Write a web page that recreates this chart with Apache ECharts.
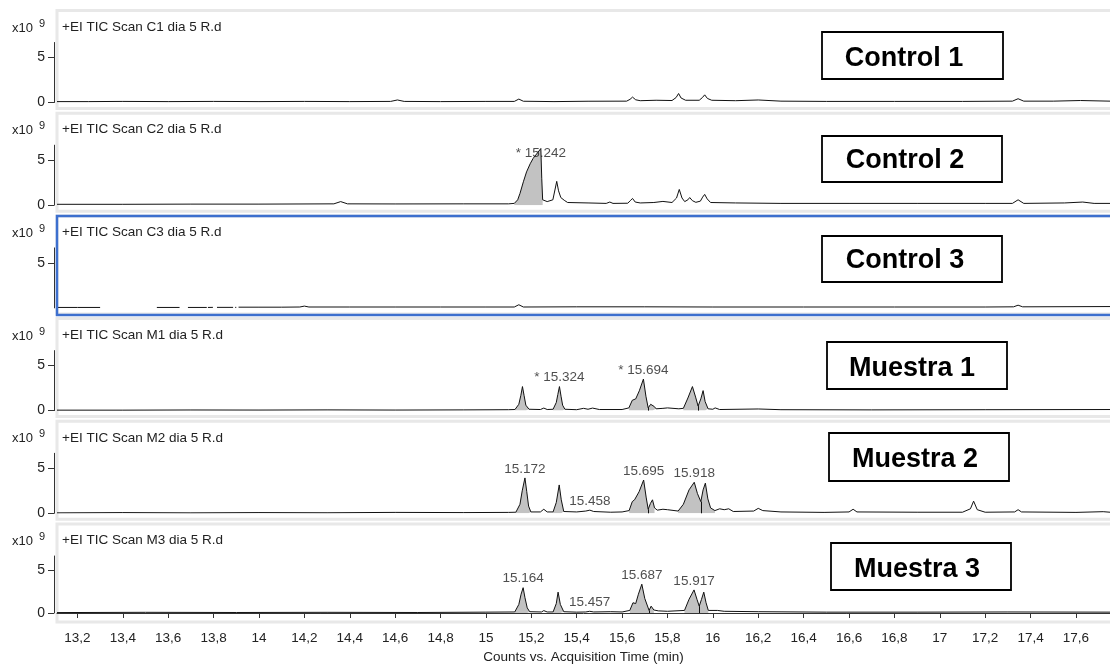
<!DOCTYPE html>
<html>
<head>
<meta charset="utf-8">
<script src="https://cdn.jsdelivr.net/npm/echarts@6/dist/echarts.min.js"></script>
<style>
  html, body { margin: 0; padding: 0; background: #fff; }
  #chart { width: 1110px; height: 665px; }
</style>
</head>
<body>
<div id="chart"></div>
<script>
// TIC traces: [retention time (min), intensity (x10^9 counts)]; null marks a gap in the recorded trace
const traceC1 = [
  [13.11,0.1],[13.25,0.1],[13.4,0.12],[13.6,0.1],[13.8,0.12],[14.0,0.1],[14.2,0.12],[14.4,0.1],
  [14.58,0.12],[14.61,0.28],[14.64,0.12],[14.8,0.1],[15.0,0.12],[15.125,0.12],[15.145,0.38],[15.165,0.14],
  [15.3,0.1],[15.45,0.14],[15.62,0.15],[15.635,0.35],[15.646,0.6],[15.66,0.3],[15.68,0.2],[15.75,0.25],
  [15.82,0.22],[15.838,0.55],[15.849,1.0],[15.86,0.5],[15.88,0.25],[15.94,0.25],[15.954,0.55],[15.964,0.85],
  [15.976,0.45],[15.995,0.25],[16.1,0.2],[16.2,0.28],[16.3,0.15],[16.5,0.12],[16.8,0.12],[17.1,0.12],
  [17.32,0.15],[17.345,0.42],[17.37,0.15],[17.5,0.15],[17.62,0.22],[17.75,0.15]
];
const traceC2 = [
  [13.11,0.1],[13.4,0.1],[13.7,0.12],[14.0,0.12],[14.33,0.15],[14.36,0.4],[14.39,0.15],[14.6,0.14],
  [14.9,0.15],[15.1,0.15],[15.125,0.2],[15.14,0.6],[15.15,1.3],[15.165,2.6],[15.179,3.7],[15.195,4.6],
  [15.208,5.2],[15.23,5.9],[15.242,6.3],[15.246,3.0],[15.25,0.6],[15.27,0.4],[15.295,0.6],[15.305,1.8],[15.312,2.65],
  [15.32,1.6],[15.33,0.85],[15.345,0.55],[15.36,0.3],[15.45,0.25],[15.53,0.2],[15.546,0.35],[15.56,0.2],
  [15.625,0.22],[15.636,0.5],[15.646,0.75],[15.658,0.35],[15.68,0.25],[15.74,0.3],[15.78,0.42],[15.82,0.3],
  [15.84,0.8],[15.852,1.75],[15.864,0.8],[15.876,0.4],[15.89,0.6],[15.898,0.85],[15.91,0.5],[15.925,0.32],
  [15.945,0.45],[15.955,0.9],[15.964,1.2],[15.975,0.7],[15.99,0.3],[16.1,0.25],[16.3,0.2],[16.6,0.2],
  [16.9,0.2],[17.2,0.2],[17.32,0.2],[17.345,0.6],[17.37,0.2],[17.55,0.25],[17.63,0.35],[17.68,0.2],[17.75,0.2]
];
const traceC3 = [
  [13.11,0.05],[13.2,0.05],[13.3,0.05],[13.4,null],[13.55,0.05],[13.65,0.05],[13.67,null],[13.687,0.05],
  [13.77,0.05],[13.773,null],[13.775,0.05],[13.797,0.06],[13.806,null],[13.815,0.06],[13.886,0.06],[13.89,null],
  [13.895,0.06],[13.9,0.06],[13.905,null],[13.91,0.08],[14.0,0.08],[14.1,0.08],[14.18,0.1],[14.2,0.2],
  [14.22,0.1],[14.4,0.1],[14.6,0.1],[14.8,0.1],[15.0,0.1],[15.125,0.1],[15.145,0.35],[15.165,0.1],
  [15.4,0.12],[15.7,0.12],[16.0,0.1],[16.4,0.1],[16.8,0.1],[17.2,0.1],[17.325,0.12],[17.345,0.3],
  [17.365,0.12],[17.75,0.15]
];
const traceM1 = [
  [13.11,0.05],[13.4,0.05],[13.7,0.07],[14.0,0.06],[14.3,0.08],[14.6,0.06],[14.9,0.08],[15.1,0.1],
  [15.128,0.12],[15.145,0.7],[15.154,1.7],[15.161,2.67],[15.168,1.7],[15.176,0.6],[15.19,0.15],[15.24,0.12],
  [15.255,0.28],[15.27,0.12],[15.296,0.15],[15.31,0.9],[15.317,1.8],[15.324,2.67],[15.331,1.6],[15.338,0.6],
  [15.348,0.15],[15.4,0.1],[15.43,0.25],[15.45,0.15],[15.47,0.28],[15.5,0.12],[15.6,0.12],[15.63,0.3],
  [15.645,1.15],[15.66,1.3],[15.676,2.2],[15.694,3.5],[15.705,1.6],[15.715,0.3],[15.726,0.7],[15.734,0.9],
  [15.742,0.45],[15.75,0.2],[15.78,0.25],[15.8,0.3],[15.85,0.2],[15.87,0.25],[15.89,1.4],[15.91,2.67],
  [15.924,1.5],[15.935,0.5],[15.947,1.3],[15.957,2.22],[15.966,1.0],[15.979,0.2],[16.0,0.15],[16.01,0.3],
  [16.03,0.12],[16.2,0.18],[16.3,0.1],[16.7,0.08],[17.2,0.1],[17.75,0.12]
];
const traceM2 = [
  [13.11,0.05],[13.4,0.08],[13.7,0.05],[14.0,0.08],[14.3,0.06],[14.6,0.1],[14.9,0.08],[15.1,0.1],
  [15.132,0.12],[15.15,1.0],[15.16,2.5],[15.172,3.93],[15.18,2.4],[15.188,0.8],[15.198,0.15],[15.24,0.15],
  [15.255,0.45],[15.27,0.15],[15.296,0.15],[15.31,1.2],[15.323,3.15],[15.332,1.5],[15.343,0.2],[15.4,0.15],
  [15.44,0.25],[15.458,0.35],[15.475,0.2],[15.55,0.12],[15.6,0.15],[15.631,0.3],[15.645,1.3],[15.655,1.5],
  [15.675,2.4],[15.695,3.7],[15.706,1.8],[15.715,0.45],[15.725,1.1],[15.734,1.5],[15.743,0.6],[15.755,0.35],
  [15.78,0.45],[15.8,0.4],[15.847,0.25],[15.87,1.0],[15.895,2.6],[15.918,3.45],[15.932,2.2],[15.947,1.3],
  [15.957,2.6],[15.967,3.35],[15.978,1.6],[15.99,0.6],[16.009,0.3],[16.03,0.5],[16.05,0.4],[16.07,0.5],
  [16.09,0.2],[16.18,0.25],[16.2,0.55],[16.22,0.3],[16.3,0.15],[16.49,0.1],[16.6,0.15],[16.618,0.45],
  [16.635,0.15],[16.9,0.12],[17.1,0.12],[17.135,0.5],[17.149,1.35],[17.165,0.4],[17.2,0.12],[17.33,0.15],
  [17.345,0.4],[17.36,0.15],[17.6,0.1],[17.72,0.18],[17.75,0.12]
];
const traceM3 = [
  [13.11,0.05],[13.5,0.08],[13.9,0.06],[14.3,0.08],[14.7,0.06],[15.0,0.1],[15.127,0.12],[15.145,1.0],
  [15.155,2.2],[15.164,2.96],[15.172,1.8],[15.182,0.6],[15.193,0.15],[15.245,0.12],[15.255,0.28],[15.27,0.12],
  [15.296,0.12],[15.31,1.1],[15.318,2.44],[15.328,1.0],[15.343,0.15],[15.4,0.1],[15.44,0.12],[15.457,0.2],
  [15.475,0.12],[15.55,0.15],[15.6,0.12],[15.634,0.3],[15.648,1.2],[15.66,1.1],[15.672,2.2],[15.687,3.37],
  [15.7,1.7],[15.719,0.3],[15.728,0.8],[15.734,0.9],[15.74,0.35],[15.76,0.25],[15.8,0.2],[15.875,0.3],
  [15.895,1.6],[15.917,2.7],[15.93,1.6],[15.94,0.8],[15.95,1.6],[15.96,2.44],[15.97,1.2],[15.98,0.3],
  [16.02,0.3],[16.05,0.2],[16.2,0.15],[16.5,0.1],[16.9,0.1],[17.3,0.12],[17.75,0.1]
];

// Integrated peak windows [start, end] (min)
const windowsC1 = [];
const windowsC2 = [[15.125, 15.25]];
const windowsC3 = [];
const windowsM1 = [[15.128, 15.19], [15.296, 15.348], [15.63, 15.75], [15.87, 15.979]];
const windowsM2 = [[15.132, 15.198], [15.296, 15.343], [15.631, 15.743], [15.847, 16.009]];
const windowsM3 = [[15.127, 15.193], [15.296, 15.343], [15.634, 15.74], [15.875, 15.98]];

// Drop lines splitting co-eluting peaks (min)
const splitsC1 = [];
const splitsC2 = [];
const splitsC3 = [];
const splitsM1 = [15.715, 15.935];
const splitsM2 = [15.715, 15.947];
const splitsM3 = [15.719, 15.94];

// Annotated retention times (min); starred ones are flagged with "* "
const labelledC1 = [];
const labelledC2 = [15.242];
const labelledC3 = [];
const labelledM1 = [15.324, 15.694];
const labelledM2 = [15.172, 15.458, 15.695, 15.918];
const labelledM3 = [15.164, 15.457, 15.687, 15.917];
const starred = [true, true, true, true, false, false];

const fileNames = [
  '+EI TIC Scan C1 dia 5 R.d', '+EI TIC Scan C2 dia 5 R.d', '+EI TIC Scan C3 dia 5 R.d',
  '+EI TIC Scan M1 dia 5 R.d', '+EI TIC Scan M2 dia 5 R.d', '+EI TIC Scan M3 dia 5 R.d'
];
const sampleNames = ['Control 1', 'Control 2', 'Control 3', 'Muestra 1', 'Muestra 2', 'Muestra 3'];

const xTicks = [13.2, 13.4, 13.6, 13.8, 14, 14.2, 14.4, 14.6, 14.8, 15, 15.2, 15.4, 15.6, 15.8, 16, 16.2, 16.4, 16.6, 16.8, 17, 17.2, 17.4, 17.6];
const xTickLabels = ['13,2', '13,4', '13,6', '13,8', '14', '14,2', '14,4', '14,6', '14,8', '15', '15,2', '15,4', '15,6', '15,8', '16', '16,2', '16,4', '16,6', '16,8', '17', '17,2', '17,4', '17,6'];
const yTicks = [0, 5];
const xTitle = 'Counts vs. Acquisition Time (min)';

// ---- layout ----
const traces = [traceC1, traceC2, traceC3, traceM1, traceM2, traceM3];
const windows = [windowsC1, windowsC2, windowsC3, windowsM1, windowsM2, windowsM3];
const splits = [splitsC1, splitsC2, splitsC3, splitsM1, splitsM2, splitsM3];
const labelled = [labelledC1, labelledC2, labelledC3, labelledM1, labelledM2, labelledM3];

const FONT = '"Liberation Sans", Arial, sans-serif';
const zeroY = [102.5, 205.2, 307.9, 410.6, 513.3, 616];
const PLOT_H = 60;
const LEFT = 57;
const X_MIN = 13.11, X_MAX = 17.75, Y_MAX = 6.667;
const labelShift = [0, 14, 0, 0, 0, 0];
const boxRects = [[822, 32, 181, 47], [822, 136, 180, 46], [822, 236, 180, 46], [827, 342, 180, 47], [829, 433, 180, 48], [831, 543, 180, 47]];
const boxTextPos = [[904, 59], [905, 161], [905, 261], [912, 369], [915, 460], [917, 570]];

function valueAt(trace, t) {
  const p = trace.find(d => Math.abs(d[0] - t) < 1e-9);
  return p ? p[1] : 0;
}
const toData = pts => pts.map(d => [d[0], d[1] === null ? '-' : d[1]]);

function fillData(trace, wins) {
  const out = [];
  wins.forEach((w, k) => {
    if (k > 0) out.push([w[0], '-']);
    trace.forEach(d => { if (d[0] >= w[0] - 1e-9 && d[0] <= w[1] + 1e-9 && d[1] !== null) out.push([d[0], d[1]]); });
  });
  return out;
}

const grid = zeroY.map(z => ({ left: LEFT, right: 0, top: z - PLOT_H, height: PLOT_H }));

const xAxis = zeroY.map((z, i) => ({
  type: 'value', gridIndex: i, min: X_MIN, max: X_MAX, show: i === 5, offset: 10,
  axisLine: { show: true, lineStyle: { color: '#333', width: 1 } },
  axisTick: { show: true, customValues: xTicks, length: 5, lineStyle: { color: '#333' } },
  axisLabel: {
    customValues: xTicks, margin: 8, fontSize: 13.5, fontFamily: FONT, color: '#222',
    formatter: v => { const k = xTicks.findIndex(t => Math.abs(t - v) < 1e-6); return k >= 0 ? xTickLabels[k] : ''; }
  },
  splitLine: { show: false },
  name: i === 5 ? xTitle : '', nameLocation: 'middle', nameGap: 27,
  nameTextStyle: { fontSize: 13.5, fontFamily: FONT, color: '#222' }
}));

const yAxis = zeroY.map((z, i) => {
  const ticks = i === 2 ? [5] : yTicks;
  return {
    type: 'value', gridIndex: i, min: 0, max: Y_MAX, offset: 3,
    axisLine: { show: true, lineStyle: { color: '#333', width: 1 } },
    axisTick: { show: true, customValues: ticks, length: 6, lineStyle: { color: '#333' } },
    axisLabel: { customValues: ticks, margin: 9, fontSize: 14, fontFamily: FONT, color: '#222' },
    splitLine: { show: false }
  };
});

const series = [];
traces.forEach((tr, i) => {
  if (windows[i].length) {
    series.push({
      type: 'line', xAxisIndex: i, yAxisIndex: i, data: fillData(tr, windows[i]),
      symbol: 'none', silent: true, connectNulls: false, z: 2,
      lineStyle: { width: 0 }, areaStyle: { color: '#c2c2c2', opacity: 1 }
    });
  }
  series.push({
    type: 'line', xAxisIndex: i, yAxisIndex: i, data: toData(tr), symbol: 'none',
    connectNulls: false, silent: true, z: 3,
    lineStyle: { color: '#111', width: 1 },
    markLine: splits[i].length ? {
      silent: true, symbol: 'none', label: { show: false },
      lineStyle: { color: '#111', width: 1, type: 'solid' },
      data: splits[i].map(t => [{ coord: [t, 0] }, { coord: [t, valueAt(tr, t)] }])
    } : undefined
  });
  if (labelled[i].length) {
    series.push({
      type: 'scatter', xAxisIndex: i, yAxisIndex: i, symbolSize: 0, silent: true, z: 4,
      data: labelled[i].map(t => [t, valueAt(tr, t)]),
      label: {
        show: true, position: 'top', distance: 2, offset: [0, labelShift[i]],
        fontSize: 13.5, fontFamily: FONT, color: '#222',
        formatter: p => (starred[i] ? '* ' : '') + p.value[0].toFixed(3)
      }
    });
  }
});

const graphic = [];
zeroY.forEach((z, i) => {
  // panel frame
  graphic.push({ type: 'rect', z: 0, silent: true,
    shape: { x: LEFT, y: z - 92, width: 1070, height: 98 },
    style: { fill: 'none', stroke: '#e8e8e8', lineWidth: 3 } });
  // file name
  graphic.push({ type: 'text', z: 5, silent: true,
    style: { text: fileNames[i], x: 62, y: z - 75.5, font: '13.5px ' + FONT, fill: '#222', textVerticalAlign: 'middle' } });
  // exponent
  graphic.push({ type: 'text', z: 5, silent: true,
    style: { text: 'x10', x: 12, y: z - 74.5, font: '13px ' + FONT, fill: '#222', textVerticalAlign: 'middle' } });
  graphic.push({ type: 'text', z: 5, silent: true,
    style: { text: '9', x: 39, y: z - 79, font: '11px ' + FONT, fill: '#222', textVerticalAlign: 'middle' } });
  // sample name box
  const b = boxRects[i];
  graphic.push({ type: 'rect', z: 10, silent: true,
    shape: { x: b[0], y: b[1], width: b[2], height: b[3] },
    style: { fill: '#fff', stroke: '#000', lineWidth: 1.8 } });
  graphic.push({ type: 'text', z: 11, silent: true,
    style: { text: sampleNames[i], x: boxTextPos[i][0], y: boxTextPos[i][1], font: 'bold 27px ' + FONT, fill: '#000', textAlign: 'center', textVerticalAlign: 'middle' } });
});
// selected chromatogram outline
graphic.push({ type: 'rect', z: 6, silent: true,
  shape: { x: 57, y: 216, width: 1070, height: 99 },
  style: { fill: 'none', stroke: '#3d6fce', lineWidth: 2.5 } });

const chart = echarts.init(document.getElementById('chart'), null, { renderer: 'canvas' });
chart.setOption({
  animation: false,
  backgroundColor: '#fff',
  grid, xAxis, yAxis, series, graphic
});
</script>
</body>
</html>
